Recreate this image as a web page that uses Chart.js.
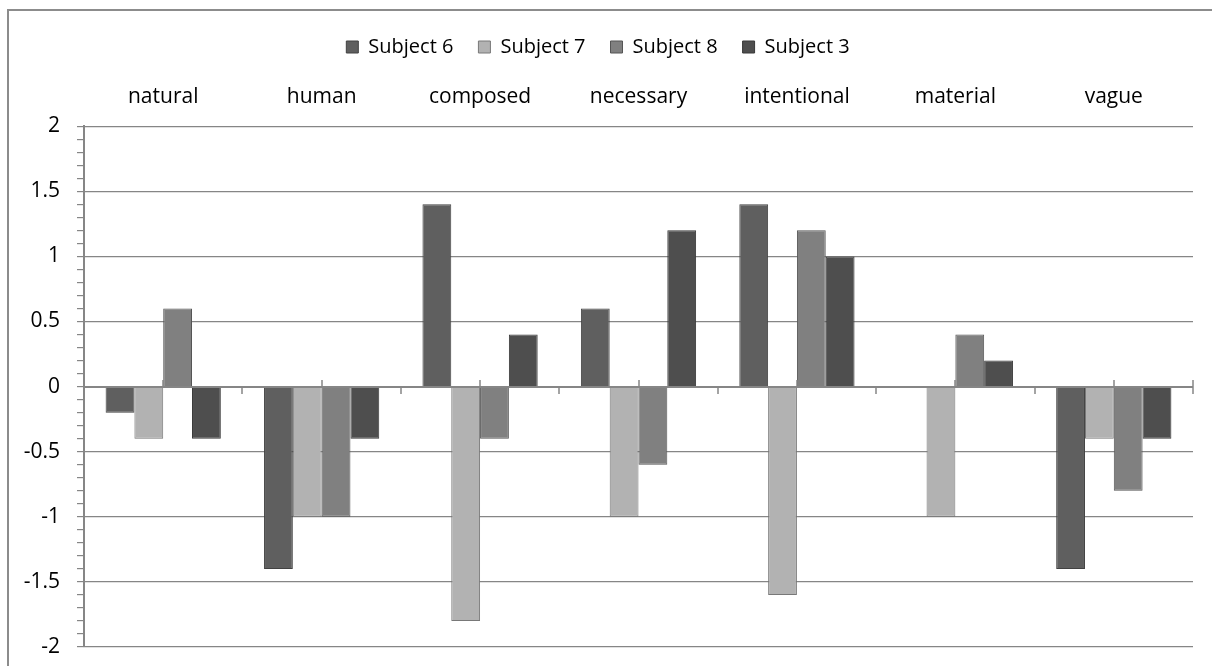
<!DOCTYPE html>
<html>
<head>
<meta charset="utf-8">
<script src="https://cdn.jsdelivr.net/npm/chart.js@4.4.1/dist/chart.umd.min.js"></script>
<style>
  html, body { margin: 0; padding: 0; background: #fff; }
  #wrap { width: 1212px; height: 666px; }
</style>
</head>
<body>
<div id="wrap"><canvas id="c" width="1212" height="666"></canvas></div>
<script>
// Category names along the top
const categories = ['natural', 'human', 'composed', 'necessary', 'intentional', 'material', 'vague'];

// Scores per subject, one value per category
const subject6 = [-0.2, -1.4, 1.4, 0.6, 1.4, 0, -1.4];
const subject7 = [-0.4, -1, -1.8, -1, -1.6, -1, -0.4];
const subject8 = [0.6, -1, -0.4, -0.6, 1.2, 0.4, -0.8];
const subject3 = [-0.4, -0.4, 0.4, 1.2, 1, 0.2, -0.4];

const seriesNames = ['Subject 6', 'Subject 7', 'Subject 8', 'Subject 3'];

// Value axis range: labelled every 0.5, minor ticks every 0.1
const yMin = -2;
const yMax = 2;
const yMajorStep = 0.5;
const yMinorStep = 0.1;

const AXIS_GRAY = '#868686';
const FAMILY = '"Open Sans", Lato, sans-serif';
const LEGEND_FONT = { family: FAMILY, size: 20 };
const LABEL_FONT = { family: FAMILY, size: 21 };
// tight line height keeps the value labels from widening the plot margins
const VALUE_FONT = { family: FAMILY, size: 21, lineHeight: '2px' };

function isMajor(v) {
  const r = v / yMajorStep;
  return Math.abs(r - Math.round(r)) < 1e-6;
}

// White background and the outer frame of the chart object
const framePlugin = {
  id: 'frame',
  beforeDraw(chart) {
    const ctx = chart.ctx;
    ctx.save();
    ctx.fillStyle = '#ffffff';
    ctx.fillRect(0, 0, chart.width, chart.height);
    ctx.strokeStyle = '#8c8c8c';
    ctx.lineWidth = 2;
    ctx.beginPath();
    ctx.moveTo(8, chart.height + 5);
    ctx.lineTo(8, 10);
    ctx.lineTo(chart.width + 5, 10);
    ctx.stroke();
    ctx.restore();
  }
};

// Category axis line drawn through value 0, with its tick marks
const zeroAxisPlugin = {
  id: 'zeroAxis',
  afterDatasetsDraw(chart) {
    const { ctx, scales: { x, y } } = chart;
    const y0 = Math.round(y.getPixelForValue(0));
    const n = categories.length;
    const step = n > 1 ? x.getPixelForValue(1) - x.getPixelForValue(0) : (x.right - x.left);
    const tick = 7;
    ctx.save();
    ctx.strokeStyle = AXIS_GRAY;
    ctx.lineWidth = 2;
    ctx.beginPath();
    ctx.moveTo(x.left, y0);
    ctx.lineTo(x.right, y0);
    ctx.stroke();
    ctx.lineWidth = 1.5;
    ctx.beginPath();
    for (let i = 0; i < n; i++) {
      const c = Math.round(x.getPixelForValue(i));
      ctx.moveTo(c, y0 - tick);
      ctx.lineTo(c, y0);
      const b = Math.round(x.getPixelForValue(i) + step / 2);
      ctx.moveTo(b, y0);
      ctx.lineTo(b, y0 + tick);
    }
    const r = Math.round(x.right);
    ctx.moveTo(r, y0 - tick);
    ctx.lineTo(r, y0);
    ctx.stroke();
    ctx.restore();
  }
};

const fills = ['#5f5f5f', '#b2b2b2', '#808080', '#4e4e4e'];
const edges = ['#424242', '#787878', '#555555', '#383838'];
const values = [subject6, subject7, subject8, subject3];

const datasets = seriesNames.map((name, i) => ({
  label: name,
  data: values[i],
  backgroundColor: fills[i],
  borderColor: edges[i],
  borderWidth: 1,
  categoryPercentage: 4 / 5.5,
  barPercentage: 1
}));

new Chart(document.getElementById('c'), {
  type: 'bar',
  data: { labels: categories, datasets },
  options: {
    responsive: false,
    animation: false,
    devicePixelRatio: 1,
    layout: { padding: { left: 3, right: 19, top: 12, bottom: 19 } },
    plugins: {
      legend: {
        position: 'top',
        labels: {
          boxWidth: 12,
          boxHeight: 12,
          padding: 25,
          color: '#000',
          font: LEGEND_FONT
        }
      },
      tooltip: { enabled: false }
    },
    scales: {
      x: {
        position: 'top',
        grid: { display: false, drawTicks: false },
        border: { display: false },
        ticks: { color: '#000', font: LABEL_FONT, padding: 17, maxRotation: 0, autoSkip: false }
      },
      y: {
        min: yMin,
        max: yMax,
        ticks: {
          stepSize: yMinorStep,
          autoSkip: false,
          color: '#000',
          font: VALUE_FONT,
          padding: 17,
          callback: (v) => isMajor(v) ? String(Math.round(v * 10) / 10) : ''
        },
        grid: {
          color: (ctx) => (ctx.tick && isMajor(ctx.tick.value)) ? AXIS_GRAY : 'rgba(0,0,0,0)',
          tickColor: AXIS_GRAY,
          tickLength: 7,
          lineWidth: 1.2
        },
        border: { color: AXIS_GRAY, width: 2 },
        afterFit(scale) { scale.width = 81; }
      }
    }
  },
  plugins: [framePlugin, zeroAxisPlugin]
});
</script>
</body>
</html>
